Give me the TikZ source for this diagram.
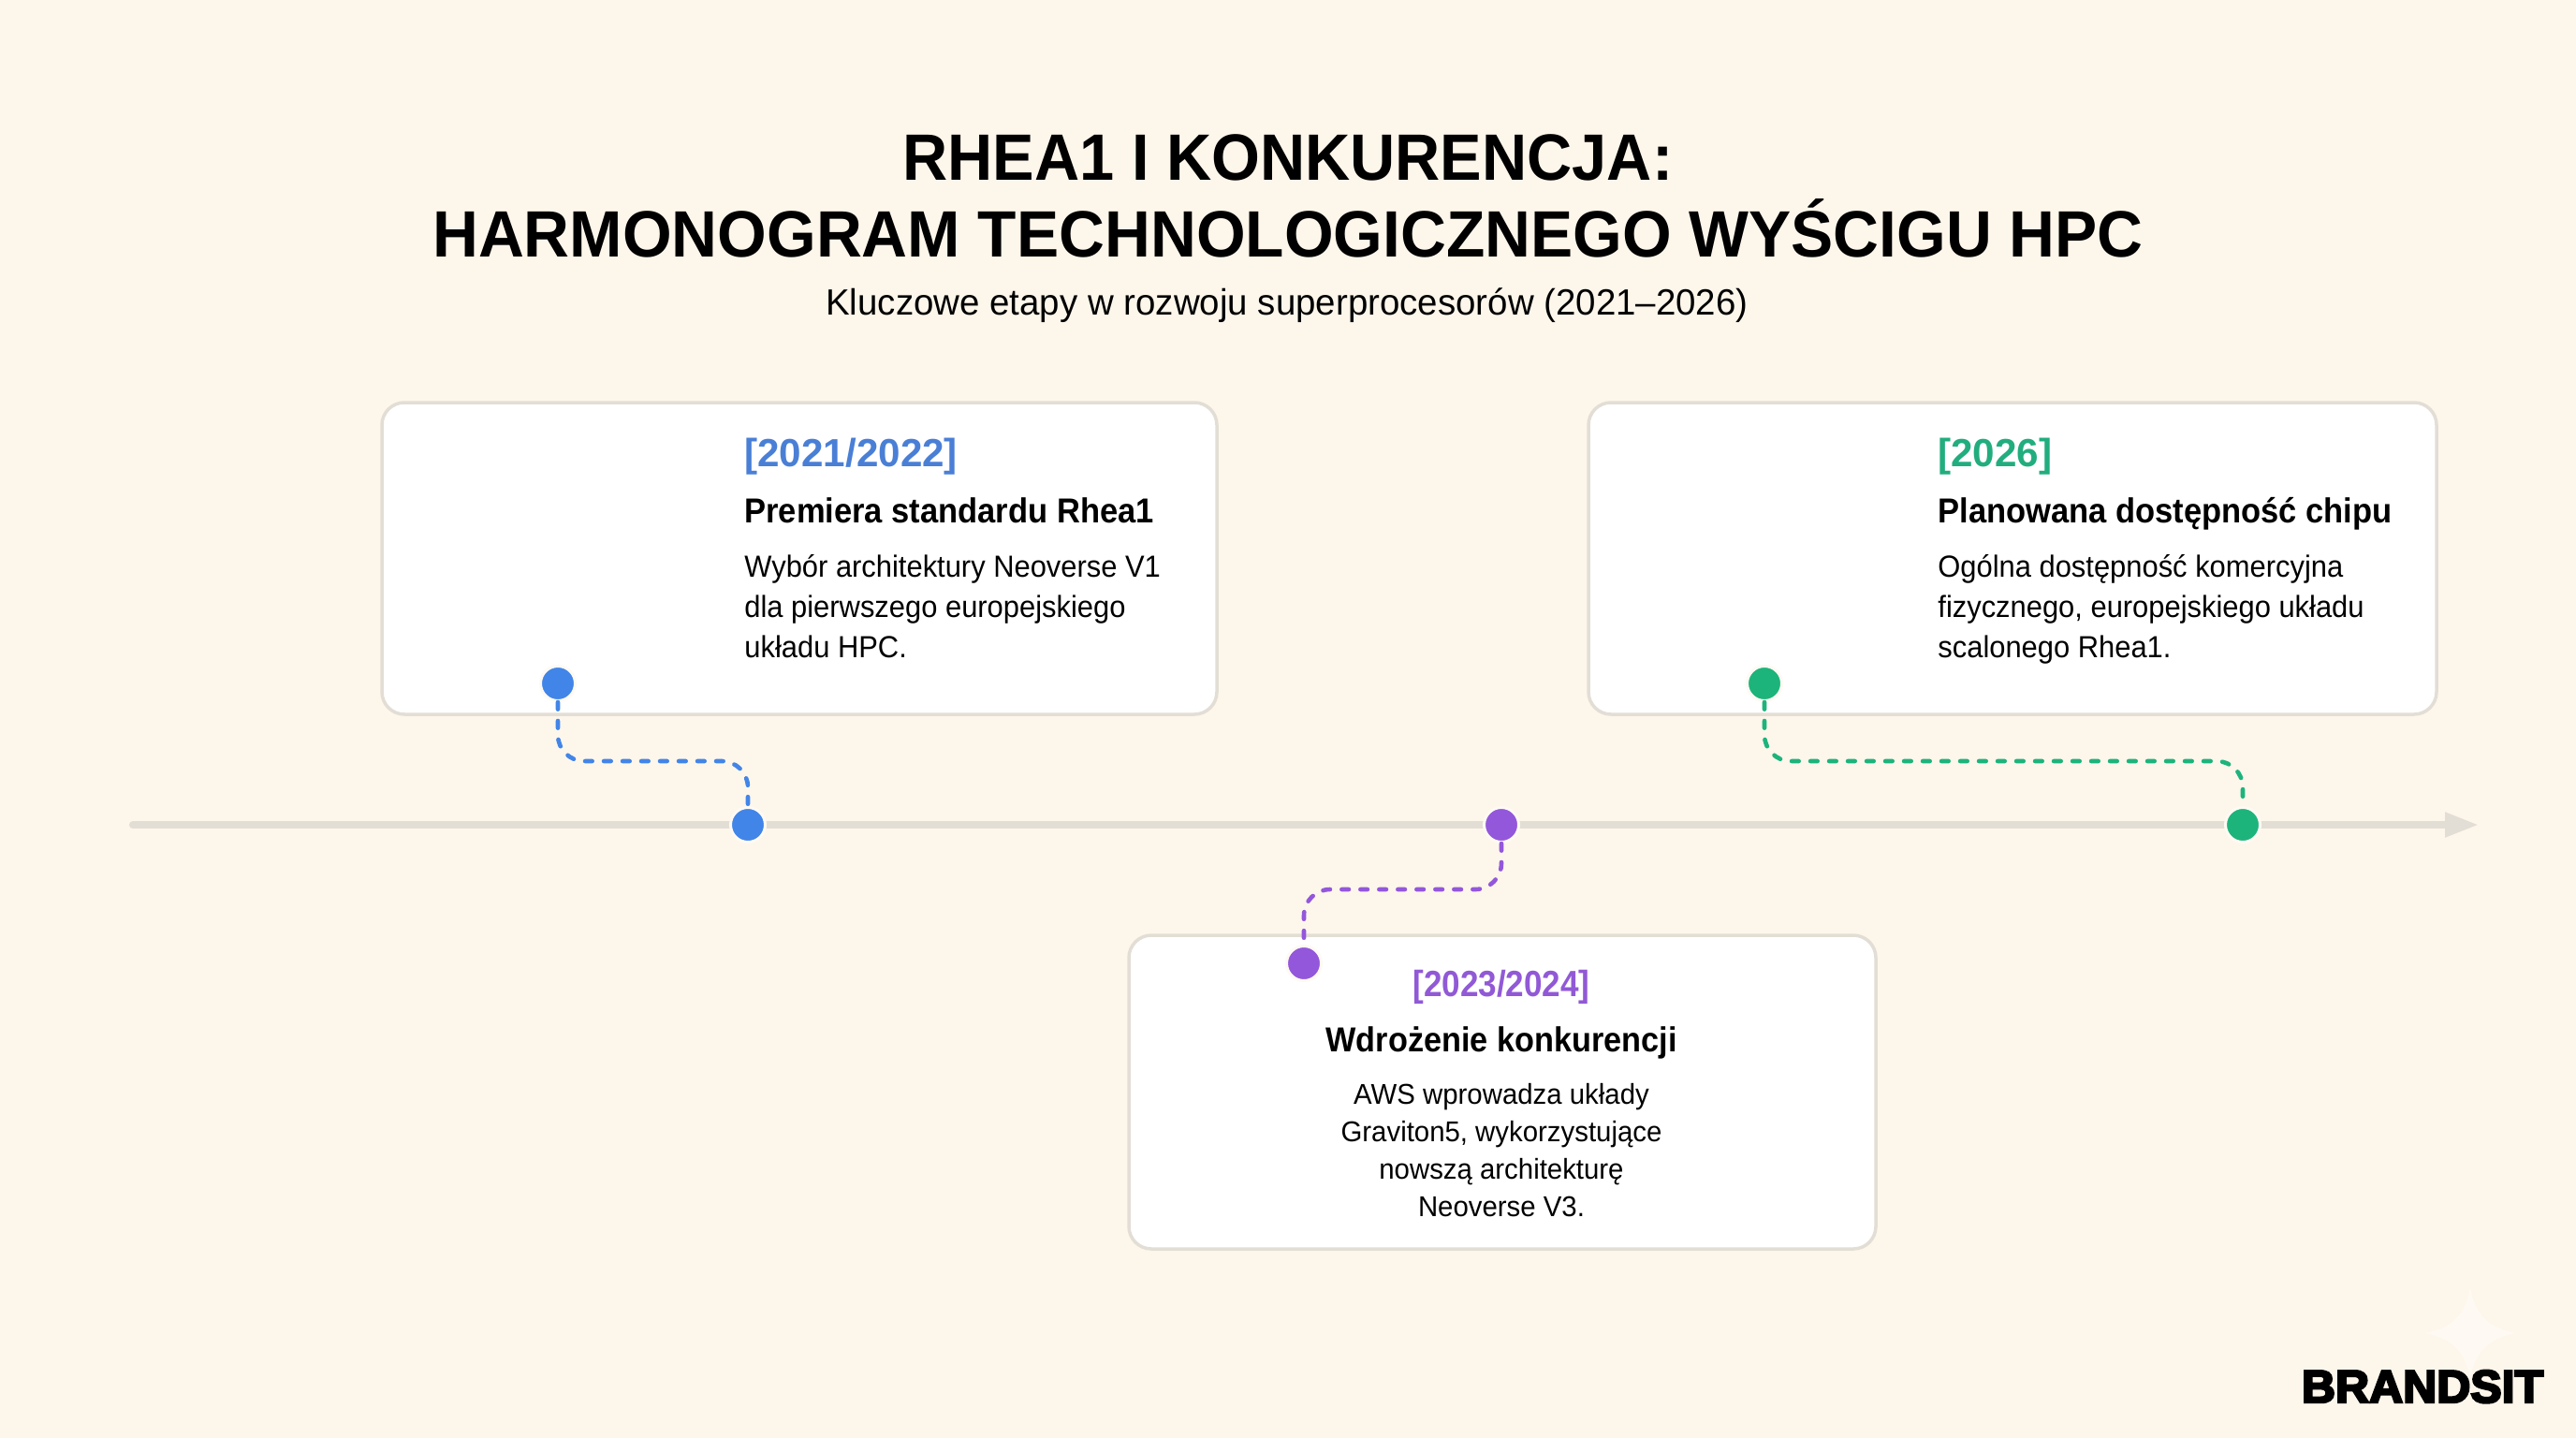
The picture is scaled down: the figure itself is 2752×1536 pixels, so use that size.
\documentclass[tikz,border=0pt]{standalone}
\usepackage{fontspec}
\usetikzlibrary{arrows.meta,calc}
\setmainfont{Liberation Sans}
\newfontfamily\logofont[BoldFeatures={FakeBold=5,FakeStretch=1.02}]{Liberation Sans}
\definecolor{bgc}{HTML}{FDF6EB}
\definecolor{linec}{HTML}{E3DED5}
\definecolor{bluedot}{HTML}{4285E8}
\definecolor{bluetx}{HTML}{4A7FD6}
\definecolor{purpdot}{HTML}{9357DB}
\definecolor{purptx}{HTML}{9159D6}
\definecolor{grndot}{HTML}{1DB47C}
\definecolor{grntx}{HTML}{22AD7F}
\definecolor{starc}{HTML}{FEFAF3}
\newcommand{\fs}[2]{\fontsize{#1pt}{#1pt}\selectfont\addfontfeature{FakeStretch=#2}}
\tikzset{
  x=0.5pt,y=-0.5pt,
  cardbox/.style={draw=linec,fill=white,line width=1.75pt,rounded corners=12pt,inner sep=0pt,outer sep=0pt,anchor=north west},
  dotm/.style={circle,fill=#1,draw=starc,line width=1.5pt,minimum size=18.5pt,inner sep=0pt},
  conn/.style={draw=#1,line width=2.3pt,line cap=round,rounded corners=14pt,dash pattern=on 3.8pt off 6.2pt},
  yearl/.style={anchor=base west,inner sep=0pt,font=\bfseries\fs{21}{1.005}},
  headl/.style={anchor=base west,inner sep=0pt,font=\bfseries\fs{18.5}{.933}},
  bodyl/.style={anchor=base west,inner sep=0pt,font=\fs{16.3}{.948}},
  cyear/.style={inner sep=0pt,anchor=base,font=\bfseries\fs{19.5}{.9}},
  chead/.style={inner sep=0pt,anchor=base,font=\bfseries\fs{18.5}{.926}},
  cbody/.style={inner sep=0pt,anchor=base,font=\fs{15.3}{.96}},
}
\begin{document}
\begin{tikzpicture}
\path[use as bounding box,fill=bgc] (0,0) rectangle (2752,1536);
% title
\node[anchor=base,inner sep=0pt,font=\bfseries\fs{35}{.953}] (t1) at (1376,192) {RHEA1 I KONKURENCJA:};
\node[anchor=base,inner sep=0pt,font=\bfseries\fs{35}{.967}] (t2) at (1376,274) {HARMONOGRAM TECHNOLOGICZNEGO WYŚCIGU HPC};
\node[anchor=base,inner sep=0pt,font=\fs{19.5}{.986}] (t3) at (1375,336) {Kluczowe etapy w rozwoju superprocesorów (2021–2026)};
% timeline
\coordinate (tla) at (142,881);
\coordinate (tlb) at (2648,881);
\draw[linec,line width=4pt,line cap=round,-{Triangle[length=18pt,width=12.5pt]}] (tla) -- (tlb);
% cards
\node[cardbox,minimum width=446pt,minimum height=166.5pt] (c1) at (408,430) {};
\node[cardbox,minimum width=453pt,minimum height=166.5pt] (c3) at (1697,430) {};
\node[cardbox,minimum width=399pt,minimum height=167.5pt] (c2) at (1206,999) {};
% dots
\node[dotm=bluedot,name=d1a] at (596,730) {};
\node[dotm=bluedot,name=d1b] at (799,881) {};
\node[dotm=purpdot,name=d2a] at (1604,881) {};
\node[dotm=purpdot,name=d2b] at (1393,1029) {};
\node[dotm=grndot,name=d3a] at (1885,730) {};
\node[dotm=grndot,name=d3b] at (2396,881) {};
\coordinate (m1) at (700,813);
\coordinate (m2) at (1500,950);
\coordinate (m3) at (2140,813);
\draw[conn=bluedot] (d1a.south) |- (m1) -| (d1b.north);
\draw[conn=purpdot] (d2a.south) |- (m2) -| (d2b.north);
\draw[conn=grndot] (d3a.south) |- (m3) -| (d3b.north);
% card 1 text
\node[yearl,text=bluetx] (y1) at (795,498) {[2021/2022]};
\node[headl] (h1) at (795,558) {Premiera standardu Rhea1};
\node[bodyl] (b1a) at (795,616) {Wybór architektury Neoverse V1};
\node[bodyl] (b1b) at (795,659) {dla pierwszego europejskiego};
\node[bodyl] (b1c) at (795,702) {układu HPC.};
% card 3 text
\node[yearl,text=grntx] (y3) at (2070,498) {[2026]};
\node[headl] (h3) at (2070,558) {Planowana dostępność chipu};
\node[bodyl] (b3a) at (2070,616) {Ogólna dostępność komercyjna};
\node[bodyl] (b3b) at (2070,659) {fizycznego, europejskiego układu};
\node[bodyl] (b3c) at (2070,702) {scalonego Rhea1.};
% card 2 text
\node[cyear,text=purptx] (y2) at (1604,1064) {[2023/2024]};
\node[chead] (h2) at (1604,1123) {Wdrożenie konkurencji};
\node[cbody] (b2a) at (1604,1179) {AWS wprowadza układy};
\node[cbody] (b2b) at (1604,1219) {Graviton5, wykorzystujące};
\node[cbody] (b2c) at (1604,1259) {nowszą architekturę};
\node[cbody] (b2d) at (1604,1299) {Neoverse V3.};
% logo
\fill[starc] (2639,1376) .. controls (2645,1405) and (2658,1418) .. (2687,1424) .. controls (2658,1430) and (2645,1443) .. (2639,1472) .. controls (2633,1443) and (2620,1430) .. (2591,1424) .. controls (2620,1418) and (2633,1405) .. (2639,1376) -- cycle;
\node[anchor=base,inner sep=0pt,font=\logofont\fontsize{24.5pt}{24.5pt}\bfseries] (logo) at (2588,1498) {BRANDSIT};
\end{tikzpicture}
\end{document}
